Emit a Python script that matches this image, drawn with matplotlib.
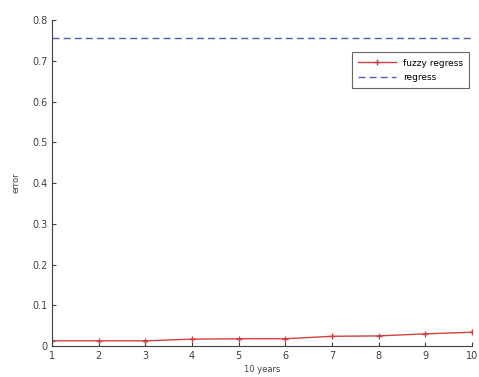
import matplotlib
matplotlib.use("Agg")
import matplotlib.pyplot as plt

years = [1, 2, 3, 4, 5, 6, 7, 8, 9, 10]
fuzzy_error = [0.013, 0.013, 0.013, 0.017, 0.018, 0.018, 0.024, 0.025, 0.030, 0.034]
regress_error = 0.755

yticks = [0, 0.1, 0.2, 0.3, 0.4, 0.5, 0.6, 0.7, 0.8]
ytick_labels = ["0", "0.1", "0.2", "0.3", "0.4", "0.5", "0.6", "0.7", "0.8"]

fig = plt.figure(figsize=(4.79, 3.77), dpi=100)
ax = fig.add_axes([0.109, 0.082, 0.876, 0.865])

ax.plot(years, fuzzy_error, color="#d04040", marker="+", markersize=5,
        linewidth=1, label="fuzzy regress")
ax.plot([years[0], years[-1]], [regress_error, regress_error], color="#5060b0",
        linestyle="--", linewidth=1, dashes=(5, 3), label="regress")

ax.set_xlim(1, 10)
ax.set_ylim(0, 0.8)
ax.set_xticks(years)
ax.set_yticks(yticks)
ax.set_yticklabels(ytick_labels)
ax.tick_params(direction="in", length=3, labelsize=7, colors="#404040")
ax.spines["top"].set_visible(False)
ax.spines["right"].set_visible(False)
ax.spines["left"].set_color("#404040")
ax.spines["bottom"].set_color("#404040")

ax.set_xlabel("10 years", fontsize=6, color="#404040", labelpad=3)
ax.set_ylabel("error", fontsize=6, color="#404040", labelpad=8)

leg = ax.legend(loc="upper right", bbox_to_anchor=(1.005, 0.915), fontsize=6.5,
                frameon=True, fancybox=False, handlelength=4.2, borderpad=0.7,
                labelspacing=0.6)
leg.get_frame().set_edgecolor("#404040")
leg.get_frame().set_linewidth(0.8)

fig.savefig("out.png", dpi=100)
